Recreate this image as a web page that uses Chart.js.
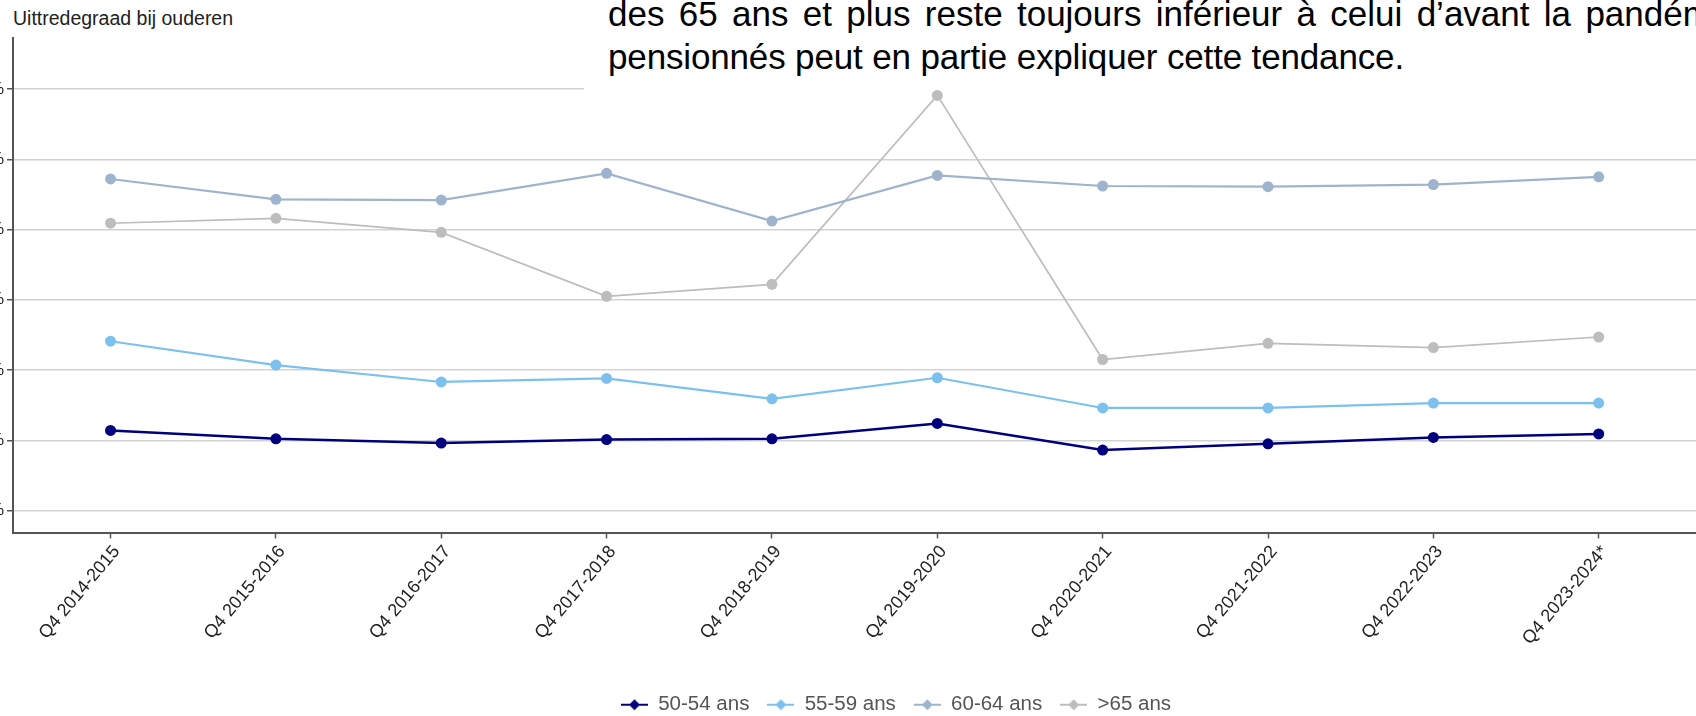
<!DOCTYPE html>
<html>
<head>
<meta charset="utf-8">
<script src="https://cdn.jsdelivr.net/npm/chart.js@4.4.1/dist/chart.umd.min.js"></script>
<style>
  body { margin: 0; width: 1696px; height: 716px; overflow: hidden; position: relative; background: #fff; }
  #titre { position: absolute; left: 13px; top: 8px; font: 19.5px/21px "Liberation Sans", Arial, sans-serif; color: #222; }
  #wrap { position: absolute; left: -47px; top: 0; }
  #note { position: absolute; left: 584px; top: 0; width: 1112px; height: 90px; background: #fff; overflow: hidden;
          font-family: "Liberation Sans", sans-serif; font-size: 35px; color: #000; }
  #note div { position: absolute; left: 24px; white-space: nowrap; line-height: 40px; }
</style>
</head>
<body>
<div id="titre">Uittredegraad bij ouderen</div>
<div id="wrap"><canvas id="chart" width="1886" height="725"></canvas></div>
<div id="note">
  <div style="top:-6px; word-spacing: 4.6px;">des 65 ans et plus reste toujours inférieur à celui d’avant la pandémie,</div>
  <div style="top:37px; letter-spacing: -0.15px;">pensionnés peut en partie expliquer cette tendance.</div>
</div>
<script>
/* ============================
   DONNEES
============================ */

const trimestres = ['Q4 2014-2015', 'Q4 2015-2016', 'Q4 2016-2017', 'Q4 2017-2018', 'Q4 2018-2019',
  'Q4 2019-2020', 'Q4 2020-2021', 'Q4 2021-2022', 'Q4 2022-2023', 'Q4 2023-2024*'];

const serie5054 = [1.14, 1.02, 0.96, 1.01, 1.02, 1.24, 0.86, 0.95, 1.04, 1.09];
const serie5559 = [2.41, 2.07, 1.83, 1.88, 1.59, 1.89, 1.46, 1.46, 1.53, 1.53];
const serie6064 = [4.72, 4.43, 4.42, 4.80, 4.12, 4.77, 4.62, 4.61, 4.64, 4.75];
const serie65 = [4.09, 4.16, 3.96, 3.05, 3.22, 5.91, 2.15, 2.38, 2.32, 2.47];

const yTicks = [0, 1, 2, 3, 4, 5, 6];

/* ============================
   SERIES
============================ */

const series = [
  { label: '50-54 ans', data: serie5054, colore: '#00007f', spessore: 2.5 },
  { label: '55-59 ans', data: serie5559, colore: '#7cc1ee', spessore: 2.2 },
  { label: '60-64 ans', data: serie6064, colore: '#9eb4cd', spessore: 2.2 },
  { label: '>65 ans', data: serie65, colore: '#bdbdbd', spessore: 1.7 }
];

// petit marqueur ligne + point pour la légende
function marqueur(colore) {
  const c = document.createElement('canvas');
  c.width = 27; c.height = 14;
  const g = c.getContext('2d');
  g.strokeStyle = colore;
  g.lineWidth = 2;
  g.beginPath(); g.moveTo(0, 7); g.lineTo(27, 7); g.stroke();
  g.fillStyle = colore;
  g.beginPath(); g.moveTo(13.5, 1.5); g.lineTo(19, 7); g.lineTo(13.5, 12.5); g.lineTo(8, 7); g.closePath(); g.fill();
  return c;
}
const marqueurs = series.map(s => marqueur(s.colore));

const datasets = series.map(s => ({
  label: s.label,
  data: s.data.map((v, i) => ({ x: i, y: v })),
  borderColor: s.colore,
  backgroundColor: s.colore,
  pointBackgroundColor: s.colore,
  pointBorderColor: s.colore,
  borderWidth: s.spessore,
  pointRadius: 5.5,
  pointBorderWidth: 0,
  tension: 0
}));

/* ============================
   GRAPHIQUE
============================ */

new Chart(document.getElementById('chart'), {
  type: 'line',
  data: { datasets },
  options: {
    responsive: false,
    animation: false,
    layout: { padding: { top: 38, left: 0, right: 0, bottom: 0 } },
    plugins: {
      tooltip: { enabled: false },
      legend: {
        position: 'bottom',
        labels: {
          usePointStyle: true,
          pointStyleWidth: 27,
          padding: 18,
          color: '#555',
          font: { family: '"Liberation Sans", sans-serif', size: 20.5 },
          generateLabels(chart) {
            const items = Chart.defaults.plugins.legend.labels.generateLabels(chart);
            items.forEach(it => { it.pointStyle = marqueurs[it.datasetIndex]; });
            return items;
          }
        }
      }
    },
    scales: {
      x: {
        type: 'linear',
        min: -0.59,
        max: 10.42,
        afterBuildTicks: scale => { scale.ticks = trimestres.map((t, i) => ({ value: i })); },
        afterFit: scale => { scale.height = 144; },
        ticks: {
          callback: v => trimestres[v] || '',
          minRotation: 50,
          maxRotation: 50,
          labelOffset: 6,
          color: '#222',
          font: { family: '"Liberation Sans", Arial, sans-serif', size: 18 }
        },
        grid: { drawOnChartArea: false, tickLength: 6, tickColor: '#555', tickWidth: 1.5 },
        border: { color: '#555', width: 2 }
      },
      y: {
        min: -0.313,
        max: 6.727,
        afterBuildTicks: scale => { scale.ticks = yTicks.map(v => ({ value: v })); },
        afterFit: scale => { scale.width = 60; },
        ticks: {
          callback: v => v + '%',
          padding: 3,
          color: '#222',
          font: { family: '"Liberation Sans", Arial, sans-serif', size: 17 }
        },
        grid: { color: '#d3d3d3', lineWidth: 1.5, tickLength: 6, tickColor: '#555', tickWidth: 1.5 },
        border: { color: '#555', width: 2 }
      }
    }
  }
});
</script>
</body>
</html>
